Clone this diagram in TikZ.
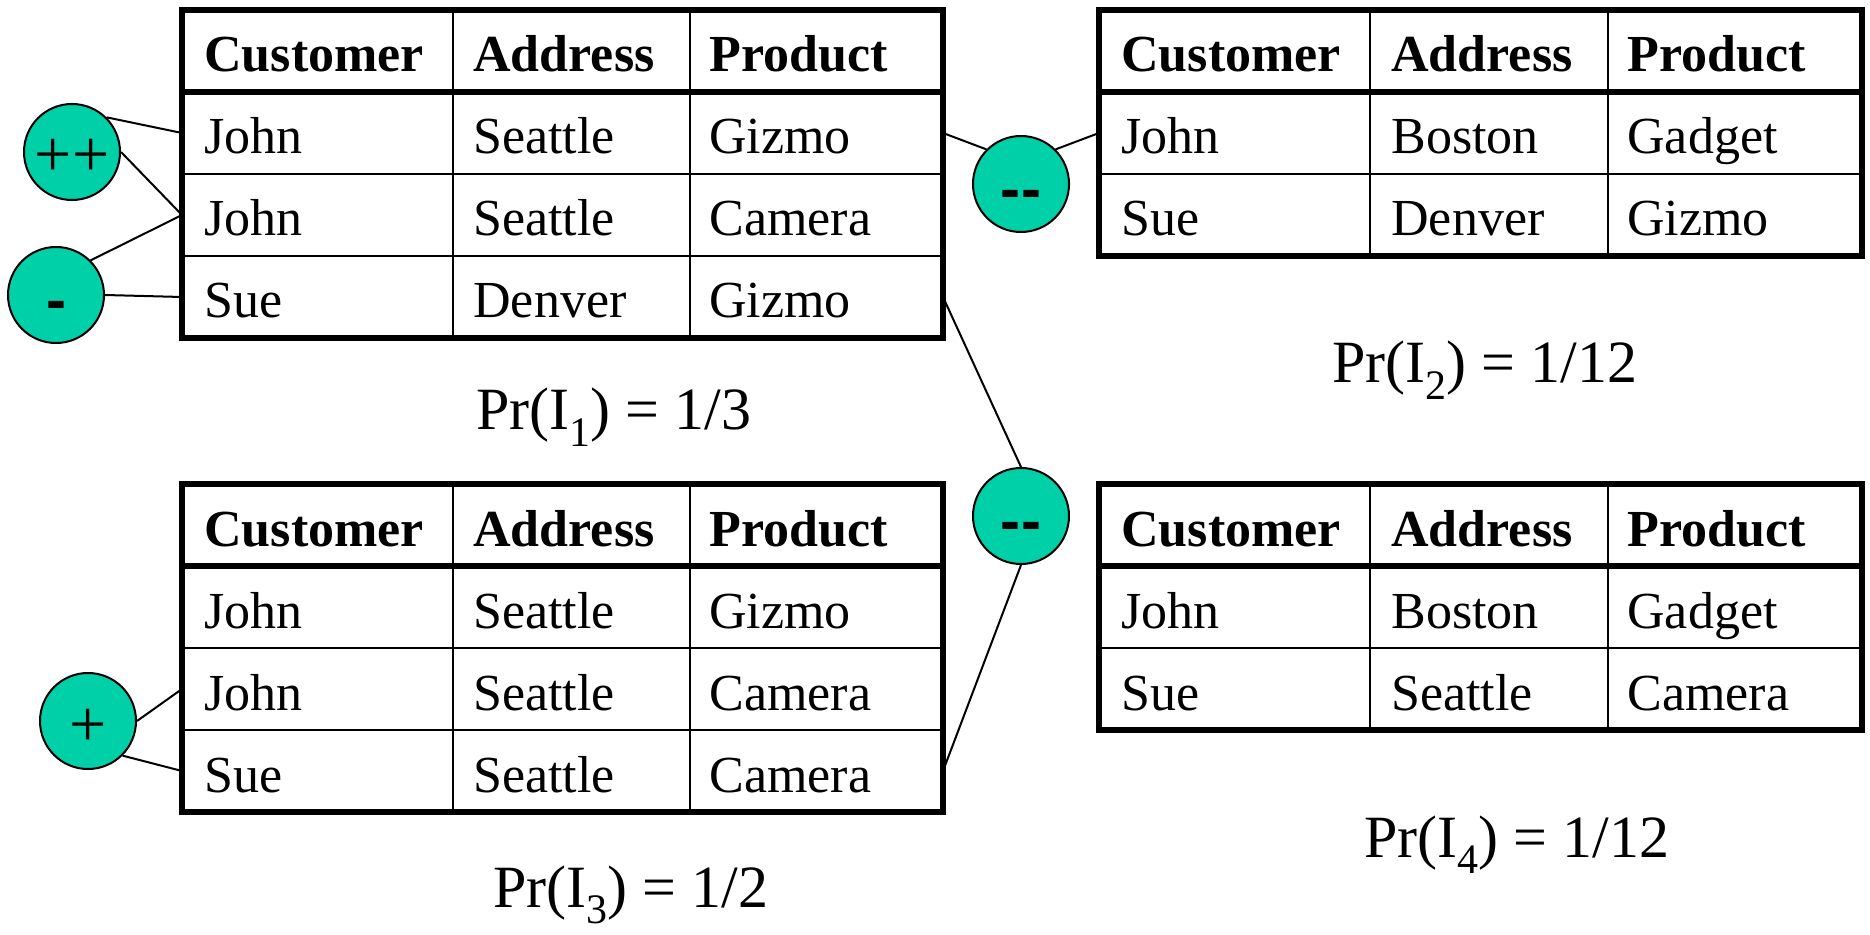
\documentclass[tikz,border=0pt]{standalone}
\usepackage{fontspec}
\setmainfont{Liberation Serif}
\newfontfamily\arialfont{Liberation Sans}
\definecolor{bubble}{RGB}{0,208,168}
\tikzset{
  thinline/.style={line width=1.2pt},
  thickline/.style={line width=3pt},
  conn/.style={line width=1pt},
  cell/.style={anchor=base west, inner sep=0pt, font=\fontsize{26}{30}\selectfont},
  hcell/.style={cell, font=\fontsize{26}{30}\selectfont\bfseries},
  bubblenode/.style={circle, draw, line width=1pt, fill=bubble, minimum size=48pt, inner sep=0pt},
  plusfont/.style={font=\fontsize{33}{36}\selectfont},
  dashfont/.style={font=\arialfont\fontsize{30}{32}\selectfont\bfseries},
  prob/.style={anchor=base, inner sep=0pt, font=\fontsize{30}{34}\selectfont}
}
\newcommand\drawtable[7]{%
  \pgfmathsetmacro\tabbot{#3+82*(#7+1)}
  \draw[thinline] (#4,#3) -- (#4,\tabbot) (#5,#3) -- (#5,\tabbot);
  \foreach \k in {2,...,#7} { \draw[thinline] (#2,{#3+82*\k}) -- (#6,{#3+82*\k}); }
  \draw[thickline] (#2,{#3+82}) -- (#6,{#3+82});
  \draw[thickline] (#2,#3) rectangle (#6,\tabbot);
  \foreach \k in {1,...,#7} {
    \coordinate (#1-\k-w) at (#2,{#3+82*\k+41});
    \coordinate (#1-\k-e) at (#6,{#3+82*\k+41});
  }
}
\newcommand\tabrow[9]{%
  \node[#9] (#1-a) at (#2,#5) {#6};
  \node[#9] (#1-b) at (#3,#5) {#7};
  \node[#9] (#1-c) at (#4,#5) {#8};
}
\newcommand\lowsub[1]{\raisebox{-0.27em}{\fontsize{21}{24}\selectfont #1}}
\newcommand\lowlabel[2]{\raisebox{#1}[0pt][0pt]{#2}}
\begin{document}
\begin{tikzpicture}[x=0.5pt,y=-0.5pt]
\useasboundingbox (0,0) rectangle (1870,935);

% Table 1
\drawtable{ta}{182}{10}{453}{690}{943}{3}
\tabrow{ta0}{204}{473}{709}{72}{Customer}{Address}{Product}{hcell}
\tabrow{ta1}{204}{473}{709}{154}{John}{Seattle}{Gizmo}{cell}
\tabrow{ta2}{204}{473}{709}{236}{John}{Seattle}{Camera}{cell}
\tabrow{ta3}{204}{473}{709}{318}{Sue}{Denver}{Gizmo}{cell}

% Table 2
\drawtable{tb}{1099}{10}{1370}{1608}{1862}{2}
\tabrow{tb0}{1121}{1391}{1627}{72}{Customer}{Address}{Product}{hcell}
\tabrow{tb1}{1121}{1391}{1627}{154}{John}{Boston}{Gadget}{cell}
\tabrow{tb2}{1121}{1391}{1627}{236}{Sue}{Denver}{Gizmo}{cell}

% Table 3
\drawtable{tc}{182}{484}{453}{690}{943}{3}
\tabrow{tc0}{204}{473}{709}{546}{Customer}{Address}{Product}{hcell}
\tabrow{tc1}{204}{473}{709}{628}{John}{Seattle}{Gizmo}{cell}
\tabrow{tc2}{204}{473}{709}{710}{John}{Seattle}{Camera}{cell}
\tabrow{tc3}{204}{473}{709}{792}{Sue}{Seattle}{Camera}{cell}

% Table 4
\drawtable{td}{1099}{484}{1370}{1608}{1862}{2}
\tabrow{td0}{1121}{1391}{1627}{546}{Customer}{Address}{Product}{hcell}
\tabrow{td1}{1121}{1391}{1627}{628}{John}{Boston}{Gadget}{cell}
\tabrow{td2}{1121}{1391}{1627}{710}{Sue}{Seattle}{Camera}{cell}

% Probabilities
\node[prob] (p1) at (614,430) {Pr(I\lowsub{1}) = 1/3};
\node[prob] (p2) at (1485,383) {Pr(I\lowsub{2}) = 1/12};
\node[prob] (p3) at (631,907) {Pr(I\lowsub{3}) = 1/2};
\node[prob] (p4) at (1517,857) {Pr(I\lowsub{4}) = 1/12};

% Bubbles
\node[bubblenode, plusfont] (c1) at (72,152) {\lowlabel{-12.5pt}{++}};
\node[bubblenode, dashfont] (c2) at (56,295) {\lowlabel{-13pt}{-}};
\node[bubblenode, dashfont] (c3) at (1021,184) {\lowlabel{-13pt}{-\kern1pt-}};
\node[bubblenode, dashfont] (c4) at (1021,516) {\lowlabel{-13pt}{-\kern1pt-}};
\node[bubblenode, plusfont] (c5) at (88,721) {\lowlabel{-12.5pt}{+}};

% Connectors
\draw[conn] (c1.north east) -- (ta-1-w);
\draw[conn] (c1.east) -- (ta-2-w);
\draw[conn] (c2.north east) -- (ta-2-w);
\draw[conn] (c2.east) -- (ta-3-w);
\draw[conn] (ta-1-e) -- (c3.north west);
\draw[conn] (c3.north east) -- (tb-1-w);
\draw[conn] (ta-3-e) -- (c4.north);
\draw[conn] (c4.south) -- (tc-3-e);
\draw[conn] (c5.east) -- (tc-2-w);
\draw[conn] (c5.south east) -- (tc-3-w);
\end{tikzpicture}
\end{document}
